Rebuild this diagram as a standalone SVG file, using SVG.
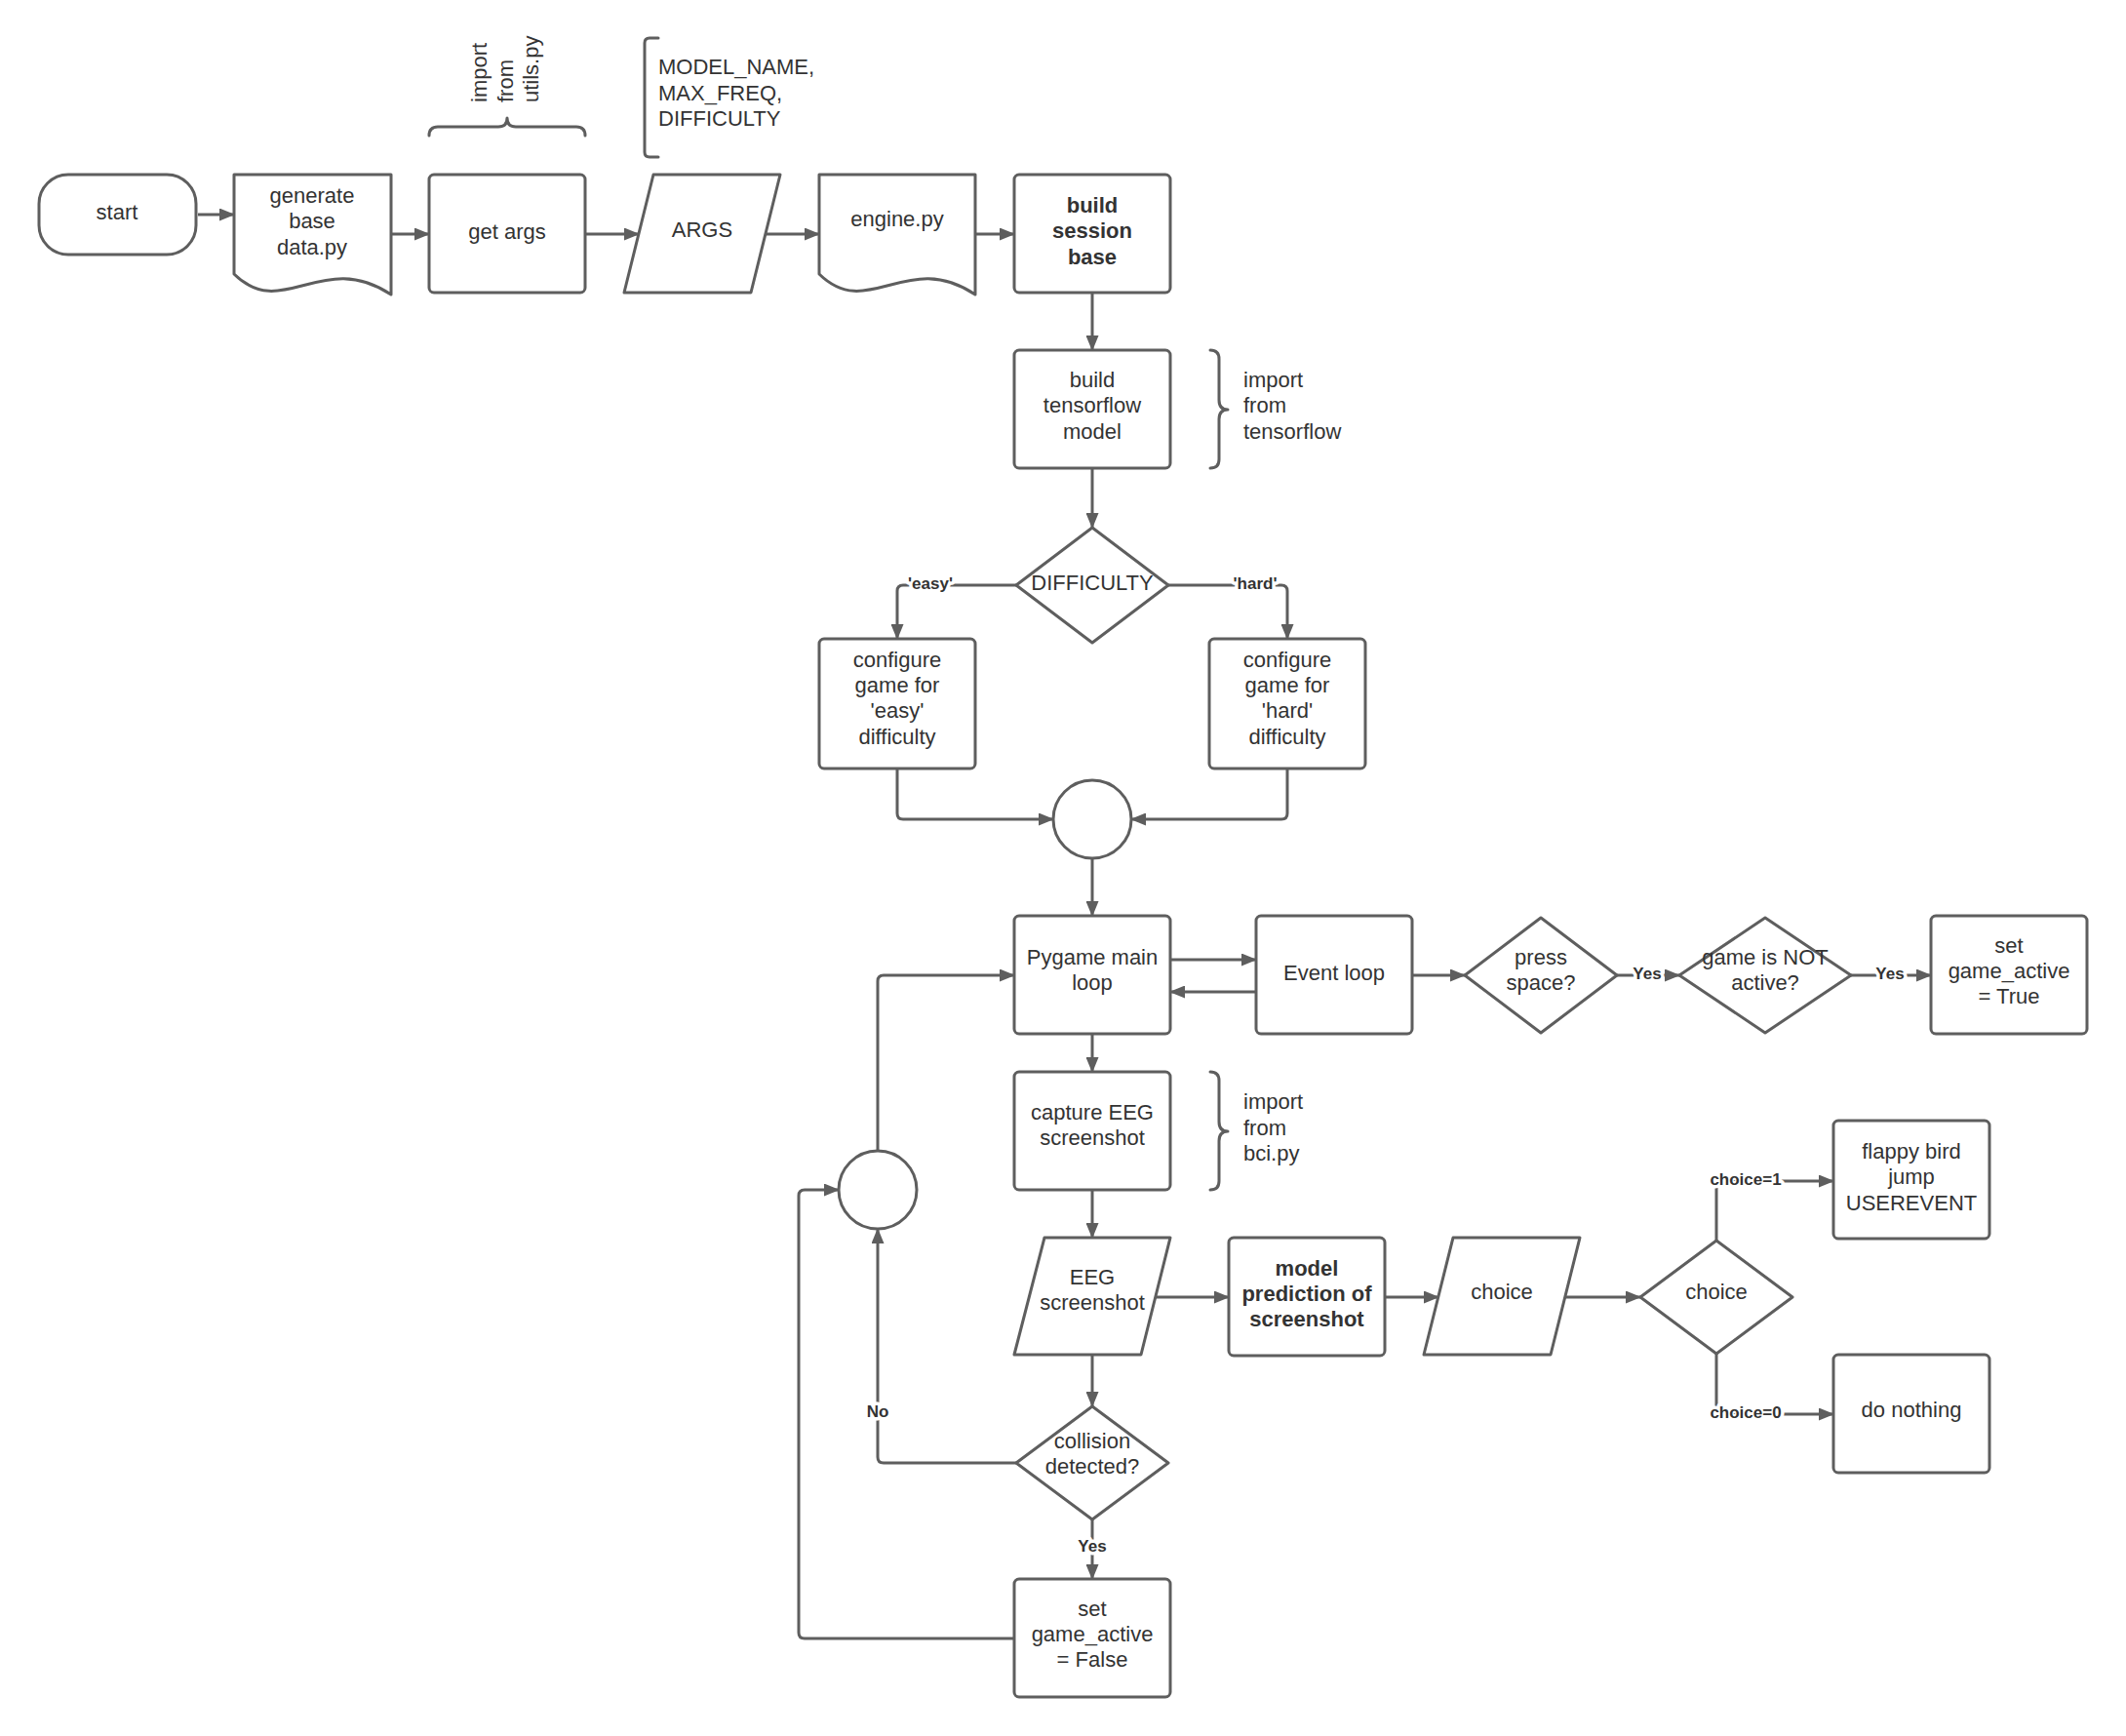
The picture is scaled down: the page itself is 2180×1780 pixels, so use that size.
<svg xmlns="http://www.w3.org/2000/svg" width="2180" height="1780" viewBox="0 0 2180 1780">
<defs>
<marker id="arr" markerUnits="userSpaceOnUse" markerWidth="16" markerHeight="13" refX="15" refY="6.5" orient="auto">
<path d="M0,0 L16,6.5 L0,13 z" fill="#5e5e5e"/>
</marker>
</defs>
<style>
.s{fill:#ffffff;stroke:#5e5e5e;stroke-width:3;stroke-linejoin:round}
.b{fill:none;stroke:#5e5e5e;stroke-width:3;stroke-linejoin:round;stroke-linecap:round}
.c{fill:none;stroke:#5e5e5e;stroke-width:3;stroke-linejoin:round}
.t{font-family:"Liberation Sans",Arial,sans-serif;font-size:22px;fill:#333333;text-anchor:middle}
.tl{font-family:"Liberation Sans",Arial,sans-serif;font-size:22px;fill:#333333;text-anchor:start}
.bold{font-weight:bold}
.l{font-family:"Liberation Sans",Arial,sans-serif;font-size:17px;font-weight:bold;fill:#333333;text-anchor:middle;paint-order:stroke;stroke:#ffffff;stroke-width:7px;stroke-linejoin:round}
</style>
<rect width="2180" height="1780" fill="#ffffff"/>

<g id="connectors">
<path class="c" marker-end="url(#arr)" d="M203,220 H240"/>
<path class="c" marker-end="url(#arr)" d="M401,240 H440"/>
<path class="c" marker-end="url(#arr)" d="M600,240 H655"/>
<path class="c" marker-end="url(#arr)" d="M785,240 H840"/>
<path class="c" marker-end="url(#arr)" d="M1000,240 H1040"/>
<path class="c" marker-end="url(#arr)" d="M1120,300 V359"/>
<path class="c" marker-end="url(#arr)" d="M1120,480 V541"/>
<path class="c" marker-end="url(#arr)" d="M1042,600 H926 Q920,600 920,606 V655"/>
<path class="c" marker-end="url(#arr)" d="M1198,600 H1314 Q1320,600 1320,606 V655"/>
<path class="c" marker-end="url(#arr)" d="M920,788 V834 Q920,840 926,840 H1080"/>
<path class="c" marker-end="url(#arr)" d="M1320,788 V834 Q1320,840 1314,840 H1160"/>
<path class="c" marker-end="url(#arr)" d="M1120,880 V939"/>
<path class="c" marker-end="url(#arr)" d="M1200,984 H1288"/>
<path class="c" marker-end="url(#arr)" d="M1288,1017 H1200"/>
<path class="c" marker-end="url(#arr)" d="M1448,1000 H1502"/>
<path class="c" marker-end="url(#arr)" d="M1658,1000 H1722"/>
<path class="c" marker-end="url(#arr)" d="M1898,1000 H1980"/>
<path class="c" marker-end="url(#arr)" d="M1120,1060 V1099"/>
<path class="c" marker-end="url(#arr)" d="M1120,1220 V1269"/>
<path class="c" marker-end="url(#arr)" d="M1185,1330 H1260"/>
<path class="c" marker-end="url(#arr)" d="M1420,1330 H1475"/>
<path class="c" marker-end="url(#arr)" d="M1605,1330 H1682"/>
<path class="c" marker-end="url(#arr)" d="M1760,1272 V1211 H1880"/>
<path class="c" marker-end="url(#arr)" d="M1760,1388 V1450 H1880"/>
<path class="c" marker-end="url(#arr)" d="M1120,1389 V1442"/>
<path class="c" marker-end="url(#arr)" d="M1042,1500 H906 Q900,1500 900,1494 V1260"/>
<path class="c" marker-end="url(#arr)" d="M1120,1558 V1619"/>
<path class="c" marker-end="url(#arr)" d="M1040,1680 H825 Q819,1680 819,1674 V1226 Q819,1220 825,1220 H860"/>
<path class="c" marker-end="url(#arr)" d="M900,1180 V1006 Q900,1000 906,1000 H1040"/>
<text class="l" x="954" y="604">'easy'</text>
<text class="l" x="1287" y="604">'hard'</text>
<text class="l" x="1689" y="1004">Yes</text>
<text class="l" x="1938" y="1004">Yes</text>
<text class="l" x="1790" y="1215">choice=1</text>
<text class="l" x="1790" y="1454">choice=0</text>
<text class="l" x="900" y="1453">No</text>
<text class="l" x="1120" y="1591">Yes</text>
</g>

<g id="start">
<rect class="s" x="40" y="179" width="161" height="82" rx="30" ry="30"/>
<text class="t" x="120" y="225">start</text>
</g>

<g id="generate">
<path class="s" d="M240,179 H401 V302 C330,255 290,330 240,281 Z"/>
<text class="t" x="320" y="208">generate</text>
<text class="t" x="320" y="234">base</text>
<text class="t" x="320" y="261">data.py</text>
</g>

<g id="utils-note">
<path class="b" d="M440,139 Q440,130 449,130 H511 Q520,130 520,121 Q520,130 529,130 H591 Q600,130 600,139"/>
<text class="tl" transform="rotate(-90)"><tspan x="-105" y="499">import</tspan><tspan x="-105" y="526">from</tspan><tspan x="-105" y="552">utils.py</tspan></text>
</g>

<g id="getargs">
<rect class="s" x="440" y="179" width="160" height="121" rx="5"/>
<text class="t" x="520" y="245">get args</text>
</g>

<g id="args-note">
<path class="b" d="M675,39 H666 Q661,39 661,44 V156 Q661,161 666,161 H675"/>
<text class="tl" x="675" y="76">MODEL_NAME,</text>
<text class="tl" x="675" y="103">MAX_FREQ,</text>
<text class="tl" x="675" y="129">DIFFICULTY</text>
</g>

<g id="args">
<path class="s" d="M670,179 H800 L770,300 H640 Z"/>
<text class="t" x="720" y="243">ARGS</text>
</g>

<g id="engine">
<path class="s" d="M840,179 H1000 V302 C930,255 890,330 840,281 Z"/>
<text class="t" x="920" y="232">engine.py</text>
</g>

<g id="session">
<rect class="s" x="1040" y="179" width="160" height="121" rx="5"/>
<text class="t bold" x="1120" y="218">build</text>
<text class="t bold" x="1120" y="244">session</text>
<text class="t bold" x="1120" y="271">base</text>
</g>

<g id="tensorflow">
<rect class="s" x="1040" y="359" width="160" height="121" rx="5"/>
<text class="t" x="1120" y="397">build</text>
<text class="t" x="1120" y="423">tensorflow</text>
<text class="t" x="1120" y="450">model</text>
</g>

<g id="tf-note">
<path class="b" d="M1241,359 Q1250,359 1250,368 V410 Q1250,420 1259,420 Q1250,420 1250,430 V471 Q1250,480 1241,480"/>
<text class="tl" x="1275" y="397">import</text>
<text class="tl" x="1275" y="423">from</text>
<text class="tl" x="1275" y="450">tensorflow</text>
</g>

<g id="difficulty">
<path class="s" d="M1120,541 L1198,600 L1120,659 L1042,600 Z"/>
<text class="t" x="1120" y="605">DIFFICULTY</text>
</g>

<g id="easy">
<rect class="s" x="840" y="655" width="160" height="133" rx="5"/>
<text class="t" x="920" y="684">configure</text>
<text class="t" x="920" y="710">game for</text>
<text class="t" x="920" y="736">'easy'</text>
<text class="t" x="920" y="763">difficulty</text>
</g>

<g id="hard">
<rect class="s" x="1240" y="655" width="160" height="133" rx="5"/>
<text class="t" x="1320" y="684">configure</text>
<text class="t" x="1320" y="710">game for</text>
<text class="t" x="1320" y="736">'hard'</text>
<text class="t" x="1320" y="763">difficulty</text>
</g>

<g id="merge">
<circle class="s" cx="1120" cy="840" r="40"/>
</g>

<g id="pygame">
<rect class="s" x="1040" y="939" width="160" height="121" rx="5"/>
<text class="t" x="1120" y="989">Pygame main</text>
<text class="t" x="1120" y="1015">loop</text>
</g>

<g id="eventloop">
<rect class="s" x="1288" y="939" width="160" height="121" rx="5"/>
<text class="t" x="1368" y="1005">Event loop</text>
</g>

<g id="press">
<path class="s" d="M1580,941 L1658,1000 L1580,1059 L1502,1000 Z"/>
<text class="t" x="1580" y="989">press</text>
<text class="t" x="1580" y="1015">space?</text>
</g>

<g id="notactive">
<path class="s" d="M1810,941 L1898,1000 L1810,1059 L1722,1000 Z"/>
<text class="t" x="1810" y="989">game is NOT</text>
<text class="t" x="1810" y="1015">active?</text>
</g>

<g id="settrue">
<rect class="s" x="1980" y="939" width="160" height="121" rx="5"/>
<text class="t" x="2060" y="977">set</text>
<text class="t" x="2060" y="1003">game_active</text>
<text class="t" x="2060" y="1029">= True</text>
</g>

<g id="capture">
<rect class="s" x="1040" y="1099" width="160" height="121" rx="5"/>
<text class="t" x="1120" y="1148">capture EEG</text>
<text class="t" x="1120" y="1174">screenshot</text>
</g>

<g id="bci-note">
<path class="b" d="M1241,1099 Q1250,1099 1250,1108 V1150 Q1250,1160 1259,1160 Q1250,1160 1250,1170 V1211 Q1250,1220 1241,1220"/>
<text class="tl" x="1275" y="1137">import</text>
<text class="tl" x="1275" y="1164">from</text>
<text class="tl" x="1275" y="1190">bci.py</text>
</g>

<g id="loopback">
<circle class="s" cx="900" cy="1220" r="40"/>
</g>

<g id="eegshot">
<path class="s" d="M1071,1269 H1200 L1170,1389 H1040 Z"/>
<text class="t" x="1120" y="1317">EEG</text>
<text class="t" x="1120" y="1343">screenshot</text>
</g>

<g id="predict">
<rect class="s" x="1260" y="1269" width="160" height="121" rx="5"/>
<text class="t bold" x="1340" y="1308">model</text>
<text class="t bold" x="1340" y="1334">prediction of</text>
<text class="t bold" x="1340" y="1360">screenshot</text>
</g>

<g id="choice-data">
<path class="s" d="M1490,1269 H1620 L1590,1389 H1460 Z"/>
<text class="t" x="1540" y="1332">choice</text>
</g>

<g id="choice-decision">
<path class="s" d="M1760,1272 L1838,1330 L1760,1388 L1682,1330 Z"/>
<text class="t" x="1760" y="1332">choice</text>
</g>

<g id="flappy">
<rect class="s" x="1880" y="1149" width="160" height="121" rx="5"/>
<text class="t" x="1960" y="1188">flappy bird</text>
<text class="t" x="1960" y="1214">jump</text>
<text class="t" x="1960" y="1241">USEREVENT</text>
</g>

<g id="nothing">
<rect class="s" x="1880" y="1389" width="160" height="121" rx="5"/>
<text class="t" x="1960" y="1453">do nothing</text>
</g>

<g id="collision">
<path class="s" d="M1120,1442 L1198,1500 L1120,1558 L1042,1500 Z"/>
<text class="t" x="1120" y="1485">collision</text>
<text class="t" x="1120" y="1511">detected?</text>
</g>

<g id="setfalse">
<rect class="s" x="1040" y="1619" width="160" height="121" rx="5"/>
<text class="t" x="1120" y="1657">set</text>
<text class="t" x="1120" y="1683">game_active</text>
<text class="t" x="1120" y="1709">= False</text>
</g>
</svg>
